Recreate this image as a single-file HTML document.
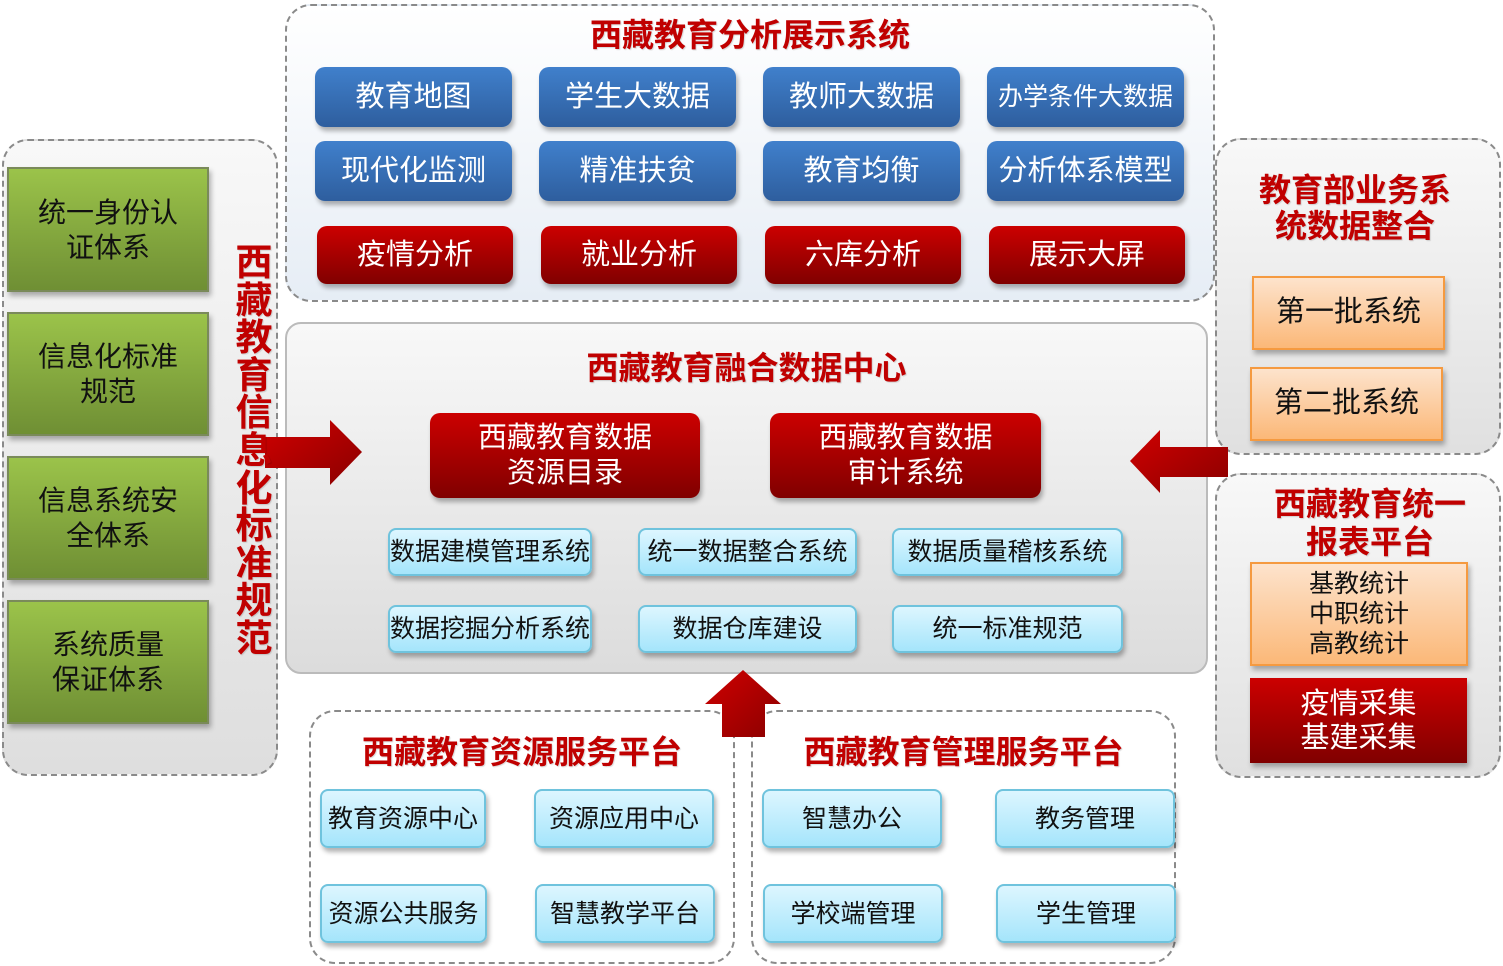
<!DOCTYPE html>
<html><head><meta charset="utf-8"><style>
*{margin:0;padding:0;box-sizing:border-box}
body{width:1503px;height:966px;background:#fff;position:relative;overflow:hidden;font-family:"Liberation Sans","Noto Sans CJK SC",sans-serif}
.a{position:absolute}
.panel{position:absolute;border:2px dashed #8a8a8a;border-radius:26px}
.t{position:absolute;color:#c00000;font-weight:bold;font-size:32px;text-align:center;white-space:nowrap;text-shadow:1px 1px 1px rgba(0,0,0,.15)}
.b{position:absolute;display:flex;align-items:center;justify-content:center;text-align:center;border-radius:10px;color:#fff;font-size:29px;line-height:1.2;box-shadow:2px 4px 5px rgba(0,0,0,.3)}
.blue{background:linear-gradient(#4080cc,#2e5e9e)}
.red{background:linear-gradient(#cc0000,#800000)}
.lb{background:linear-gradient(#ddf6ff,#a5e5fb);border:2px solid #6fc3dd;color:#111;font-size:25px;border-radius:8px}
.gr{background:linear-gradient(#9bc34a,#6f8f34);border:2px solid #7a8a5a;color:#111;font-size:28px;border-radius:0;line-height:1.25}
.or{background:linear-gradient(#fde3cc,#fbb878);border:2px solid #f59a40;color:#111;border-radius:0;line-height:1.15}
</style></head><body>

<div class="panel" style="left:285px;top:4px;width:930px;height:298px;background:linear-gradient(#fff,#e6edf5)"></div>
<div class="t" style="left:285px;width:930px;top:10px">西藏教育分析展示系统</div>
<div class="b blue" style="left:315px;top:67px;width:197px;height:60px">教育地图</div>
<div class="b blue" style="left:539px;top:67px;width:197px;height:60px">学生大数据</div>
<div class="b blue" style="left:763px;top:67px;width:197px;height:60px">教师大数据</div>
<div class="b blue" style="left:987px;top:67px;width:197px;height:60px;font-size:25px">办学条件大数据</div>
<div class="b blue" style="left:315px;top:141px;width:197px;height:60px">现代化监测</div>
<div class="b blue" style="left:539px;top:141px;width:197px;height:60px">精准扶贫</div>
<div class="b blue" style="left:763px;top:141px;width:197px;height:60px">教育均衡</div>
<div class="b blue" style="left:987px;top:141px;width:197px;height:60px">分析体系模型</div>
<div class="b red" style="left:317px;top:226px;width:196px;height:58px">疫情分析</div>
<div class="b red" style="left:541px;top:226px;width:196px;height:58px">就业分析</div>
<div class="b red" style="left:765px;top:226px;width:196px;height:58px">六库分析</div>
<div class="b red" style="left:989px;top:226px;width:196px;height:58px">展示大屏</div>

<div class="panel" style="left:2px;top:139px;width:276px;height:637px;background:linear-gradient(#f8f8f8,#dedede)"></div>
<div class="b gr" style="left:7px;top:167px;width:202px;height:125px">统一身份认<br>证体系</div>
<div class="b gr" style="left:7px;top:312px;width:202px;height:124px">信息化标准<br>规范</div>
<div class="b gr" style="left:7px;top:456px;width:202px;height:124px">信息系统安<br>全体系</div>
<div class="b gr" style="left:7px;top:600px;width:202px;height:124px">系统质量<br>保证体系</div>

<div class="a" style="left:285px;top:322px;width:923px;height:352px;border:2px solid #bbb;border-radius:16px;background:linear-gradient(#f8f8f8,#dcdcdc)"></div>
<div class="t" style="left:285px;width:923px;top:343px">西藏教育融合数据中心</div>
<div class="b red" style="left:430px;top:413px;width:270px;height:85px">西藏教育数据<br>资源目录</div>
<div class="b red" style="left:770px;top:413px;width:271px;height:85px">西藏教育数据<br>审计系统</div>
<div class="b lb" style="left:388px;top:528px;width:204px;height:48px">数据建模管理系统</div>
<div class="b lb" style="left:638px;top:528px;width:219px;height:48px">统一数据整合系统</div>
<div class="b lb" style="left:892px;top:528px;width:231px;height:48px">数据质量稽核系统</div>
<div class="b lb" style="left:388px;top:605px;width:204px;height:48px">数据挖掘分析系统</div>
<div class="b lb" style="left:638px;top:605px;width:219px;height:48px">数据仓库建设</div>
<div class="b lb" style="left:892px;top:605px;width:231px;height:48px">统一标准规范</div>

<div class="panel" style="left:1215px;top:138px;width:286px;height:317px;background:linear-gradient(#f8f8f8,#e0e0e0)"></div>
<div class="t" style="left:1215px;width:280px;top:172px;line-height:36px">教育部业务系<br>统数据整合</div>
<div class="b or" style="left:1252px;top:276px;width:193px;height:74px">第一批系统</div>
<div class="b or" style="left:1250px;top:367px;width:193px;height:74px">第二批系统</div>
<div class="panel" style="left:1215px;top:473px;width:286px;height:305px;background:linear-gradient(#f8f8f8,#e0e0e0)"></div>
<div class="t" style="left:1240px;width:260px;top:485px;line-height:38px">西藏教育统一<br>报表平台</div>
<div class="b or" style="left:1250px;top:562px;width:218px;height:104px;font-size:25px;line-height:30px">基教统计<br>中职统计<br>高教统计</div>
<div class="b red" style="left:1250px;top:678px;width:217px;height:85px;border-radius:0;line-height:34px">疫情采集<br>基建采集</div>

<div class="panel" style="left:309px;top:710px;width:426px;height:254px;background:#fff"></div>
<div class="panel" style="left:751px;top:710px;width:425px;height:254px;background:#fff"></div>
<div class="t" style="left:309px;width:426px;top:727px">西藏教育资源服务平台</div>
<div class="t" style="left:751px;width:425px;top:727px">西藏教育管理服务平台</div>
<div class="b lb" style="left:320px;top:789px;width:166px;height:59px">教育资源中心</div>
<div class="b lb" style="left:534px;top:789px;width:180px;height:59px">资源应用中心</div>
<div class="b lb" style="left:320px;top:884px;width:167px;height:59px">资源公共服务</div>
<div class="b lb" style="left:535px;top:884px;width:180px;height:59px">智慧教学平台</div>
<div class="b lb" style="left:762px;top:789px;width:180px;height:59px">智慧办公</div>
<div class="b lb" style="left:995px;top:789px;width:180px;height:59px">教务管理</div>
<div class="b lb" style="left:763px;top:884px;width:180px;height:59px">学校端管理</div>
<div class="b lb" style="left:996px;top:884px;width:180px;height:59px">学生管理</div>

<svg class="a" style="left:0;top:0" width="1503" height="966">
<defs><linearGradient id="rg" x1="0" y1="0" x2="1" y2="1"><stop offset="0" stop-color="#d00000"/><stop offset="1" stop-color="#8a0000"/></linearGradient></defs>
<polygon points="265,437 330,437 330,420 362,452 330,485 330,468 265,468" fill="url(#rg)"/>
<polygon points="1228,447 1160,447 1160,430 1130,461 1160,493 1160,477 1228,477" fill="url(#rg)"/>
<polygon points="722,737 722,704 705,704 743,670 781,704 765,704 765,737" fill="url(#rg)"/>
</svg>
<div class="t" style="left:234px;top:244px;width:40px;font-size:37px;line-height:37.6px;white-space:normal">西藏教育信息化标准规范</div>

</body></html>
